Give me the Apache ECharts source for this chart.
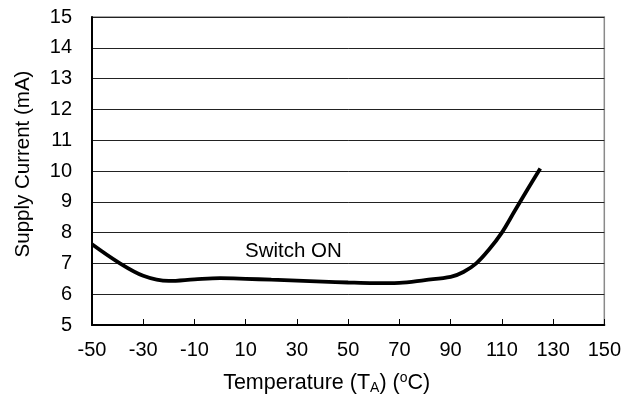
<!DOCTYPE html>
<html><head><meta charset="utf-8">
<script src="https://cdn.jsdelivr.net/npm/echarts@6/dist/echarts.min.js"></script>
<style>html,body{margin:0;padding:0;background:#fff}#c{width:624px;height:400px}</style>
</head><body><div id="c"></div>
<script>
const temps = [-50,-40,-30,-20,-10,0,10,20,30,40,50,60,70,80,90,95,100,105,110,115,120,125];
const current = [7.62,7.05,6.6,6.43,6.48,6.52,6.5,6.47,6.44,6.41,6.38,6.36,6.37,6.46,6.56,6.72,7.0,7.45,8.0,8.7,9.4,10.08];
const xMin = -50, xMax = 150, xStep = 20;
const yMin = 5, yMax = 15, yStep = 1;
const seriesLabel = 'Switch ON';
const xOffset = -xMin;
const chart = echarts.init(document.getElementById('c'));
const font = 'Liberation Sans, Arial, sans-serif';
chart.setOption({
  animation: false,
  grid: {left: 92, right: 19, top: 17, bottom: 73, show: true, borderColor: '#8a8a8a', borderWidth: 1.5},
  xAxis: {
    type: 'value', min: xMin + xOffset, max: xMax + xOffset, interval: xStep,
    axisLine: {show: true, lineStyle: {color: '#000', width: 2}},
    axisTick: {show: true, inside: true, length: 6, lineStyle: {color: '#000', width: 1}},
    splitLine: {show: false},
    axisLabel: {formatter: v => String(v - xOffset), color: '#000', fontSize: 20, fontFamily: font, margin: 15},
    name: '{n|Temperature (T}{s|A}{n|) (}{o|o}{n|C)}', nameLocation: 'middle', nameGap: 46,
    nameTextStyle: {padding: [0, 43, 0, 0], rich: {
      n: {fontSize: 21.5, fontFamily: font, color: '#000'},
      s: {fontSize: 14, fontFamily: font, color: '#000', verticalAlign: 'bottom', padding: [10,0,0,0]},
      o: {fontSize: 14, fontFamily: font, color: '#000', verticalAlign: 'top', padding: [0,0,8,0]}
    }}
  },
  yAxis: {
    type: 'value', min: yMin, max: yMax, interval: yStep,
    axisLine: {show: true, lineStyle: {color: '#000', width: 2}},
    axisTick: {show: false},
    splitLine: {show: true, lineStyle: {color: '#222', width: 1}},
    axisLabel: {color: '#000', fontSize: 20, fontFamily: font, margin: 20},
    name: 'Supply Current (mA)', nameLocation: 'middle', nameGap: 58,
    nameTextStyle: {fontSize: 20.5, fontFamily: font, color: '#000', padding: [0, 0, 0, 14]}
  },
  graphic: [{type: 'text', left: 245, top: 241, style: {text: seriesLabel, fontSize: 20.5, fontFamily: font, fill: '#000'}}],
  series: [{
    type: 'line', smooth: 0.35, symbol: 'none',
    lineStyle: {color: '#000', width: 3.8},
    data: temps.map((t, i) => [t + xOffset, current[i]])
  }]
});
</script></body></html>
